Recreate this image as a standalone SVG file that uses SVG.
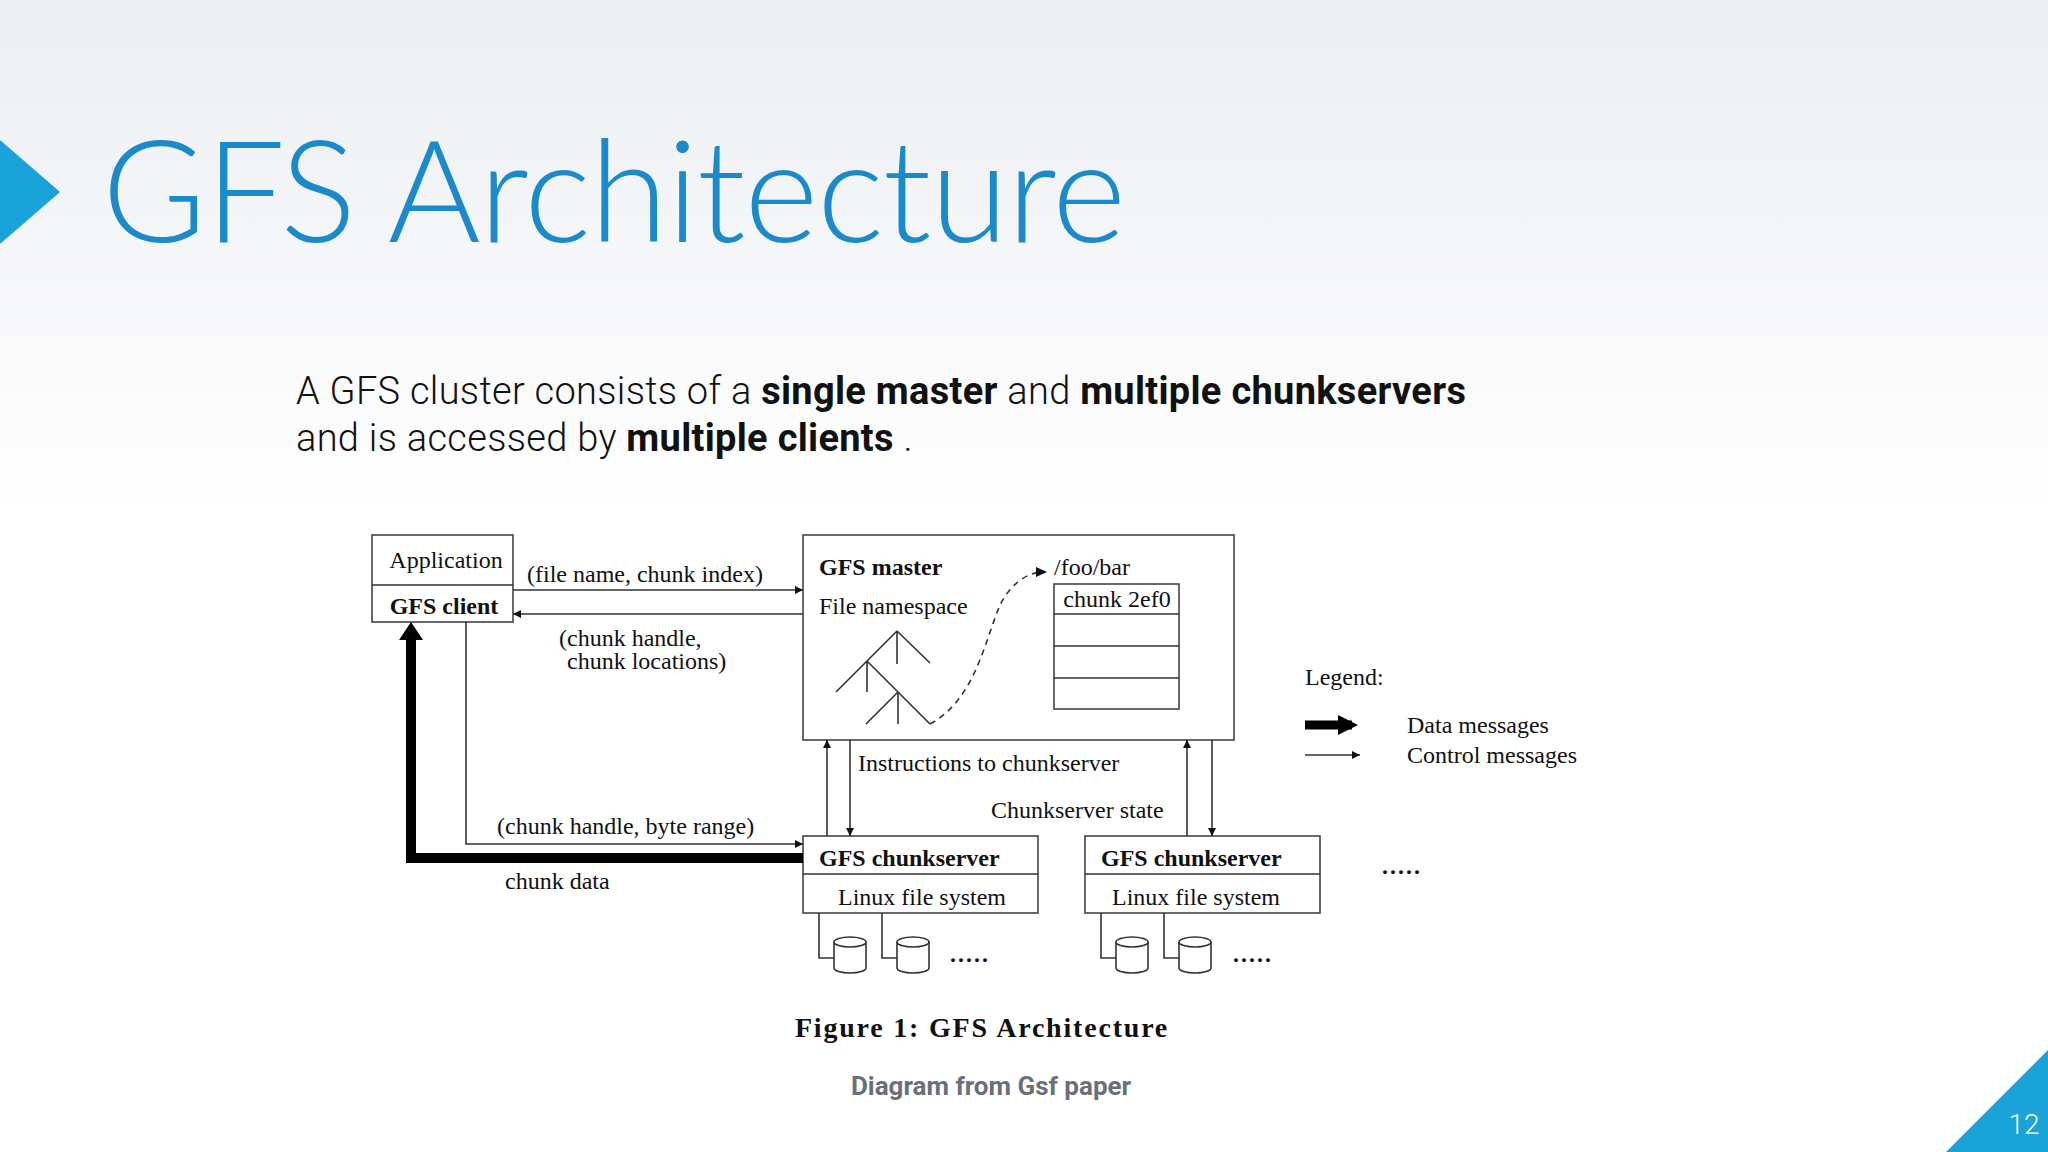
<svg xmlns="http://www.w3.org/2000/svg" width="2048" height="1152" viewBox="0 0 2048 1152">
<defs>
<linearGradient id="bg" x1="0" y1="0" x2="0" y2="1">
<stop offset="0" stop-color="#eceef2"/><stop offset="0.45" stop-color="#ffffff"/><stop offset="1" stop-color="#ffffff"/>
</linearGradient>
<marker id="ah" viewBox="0 0 10 10" refX="10" refY="5" markerWidth="12" markerHeight="8" markerUnits="userSpaceOnUse" orient="auto"><path d="M0,0 L10,5 L0,10 z" fill="#111"/></marker>
<marker id="ahb" viewBox="0 0 10 10" refX="7" refY="5" markerWidth="22" markerHeight="20" markerUnits="userSpaceOnUse" orient="auto"><path d="M0,0 L10,5 L0,10 z" fill="#000"/></marker>
</defs>
<style>
.t{font-family:"Liberation Serif","Times New Roman",serif;font-size:24px;fill:#111}
.b{font-weight:bold}
.box{fill:#fff;stroke:#444;stroke-width:1.6}
.ln{fill:none;stroke:#333;stroke-width:1.6}
.thick{fill:none;stroke:#000;stroke-width:10}
</style>
<rect width="2048" height="1152" fill="url(#bg)"/>
<polygon points="0,140 60,192 0,244" fill="#1aa3d9"/>
<text x="102" y="242" font-family="Lato,'Open Sans',sans-serif" font-weight="300" font-size="142" fill="#1a8acb" textLength="1024">GFS Architecture</text>
<g font-family="Roboto,'Noto Sans',sans-serif" font-size="38" fill="#111" letter-spacing="0.3">
<text x="296" y="404" font-weight="300">A GFS cluster consists of a <tspan font-weight="bold">single master</tspan> and <tspan font-weight="bold">multiple chunkservers</tspan></text>
<text x="296" y="451" font-weight="300">and is accessed by <tspan font-weight="bold">multiple clients</tspan> .</text>
</g>

<g id="client">
<rect class="box" x="372" y="535" width="141" height="87"/>
<line class="ln" x1="372" y1="585" x2="513" y2="585"/>
<text class="t" x="446" y="568" text-anchor="middle">Application</text>
<text class="t b" x="444" y="614" text-anchor="middle">GFS client</text>
</g>
<g id="master">
<rect class="box" x="803" y="535" width="431" height="205"/>
<text class="t b" x="819" y="575">GFS master</text>
<text class="t" x="819" y="614">File namespace</text>
<text class="t" x="1054" y="575">/foo/bar</text>
<rect class="box" x="1054" y="584" width="125" height="125"/>
<line class="ln" x1="1054" y1="614" x2="1179" y2="614"/>
<line class="ln" x1="1054" y1="646" x2="1179" y2="646"/>
<line class="ln" x1="1054" y1="678" x2="1179" y2="678"/>
<text class="t" x="1117" y="607" text-anchor="middle">chunk 2ef0</text>
<path class="ln" d="M897,631 L836,692 M897,631 L930,663 M897,631 L897,664 M867,661 L867,692 M867,661 L930,724 M898,692 L866,724 M898,692 L898,724"/>
<path d="M930,724 C975,700 985,640 1000,605 C1010,585 1025,574 1040,572" fill="none" stroke="#333" stroke-width="1.6" stroke-dasharray="6,5"/>
<path d="M1036,567 L1047,572 L1036,577 z" fill="#111"/>
</g>
<g id="cs1">
<rect class="box" x="803" y="836" width="235" height="77"/>
<line class="ln" x1="803" y1="874" x2="1038" y2="874"/>
<text class="t b" x="819" y="866">GFS chunkserver</text>
<text class="t" x="922" y="905" text-anchor="middle">Linux file system</text>
<path class="ln" d="M819,913 V958 H834 M882,913 V958 H897"/>
<g class="ln"><path d="M834,942 V968 A16,5 0 0 0 866,968 V942"/><ellipse cx="850" cy="942" rx="16" ry="5"/>
<path d="M897,942 V968 A16,5 0 0 0 929,968 V942"/><ellipse cx="913" cy="942" rx="16" ry="5"/></g>
<text class="t b" x="950" y="962" letter-spacing="2">.....</text>
</g>
<g id="cs2">
<rect class="box" x="1085" y="836" width="235" height="77"/>
<line class="ln" x1="1085" y1="874" x2="1320" y2="874"/>
<text class="t b" x="1101" y="866">GFS chunkserver</text>
<text class="t" x="1196" y="905" text-anchor="middle">Linux file system</text>
<path class="ln" d="M1101,913 V958 H1116 M1164,913 V958 H1179"/>
<g class="ln"><path d="M1116,942 V968 A16,5 0 0 0 1148,968 V942"/><ellipse cx="1132" cy="942" rx="16" ry="5"/>
<path d="M1179,942 V968 A16,5 0 0 0 1211,968 V942"/><ellipse cx="1195" cy="942" rx="16" ry="5"/></g>
<text class="t b" x="1233" y="962" letter-spacing="2">.....</text>
</g>
<text class="t b" x="1382" y="874" letter-spacing="2">.....</text>

<g id="connectors">
<line class="ln" x1="513" y1="590" x2="803" y2="590" marker-end="url(#ah)"/>
<line class="ln" x1="803" y1="614" x2="513" y2="614" marker-end="url(#ah)"/>
<path class="ln" d="M466,622 V844 H803" marker-end="url(#ah)"/>
<path class="thick" d="M803,858 H411 V636"/>
<path d="M399,640 L411,622 L423,640 z" fill="#000"/>
<line class="ln" x1="827" y1="836" x2="827" y2="740" marker-end="url(#ah)"/>
<line class="ln" x1="850" y1="740" x2="850" y2="836" marker-end="url(#ah)"/>
<line class="ln" x1="1187" y1="836" x2="1187" y2="740" marker-end="url(#ah)"/>
<line class="ln" x1="1212" y1="740" x2="1212" y2="836" marker-end="url(#ah)"/>
<text class="t" x="527" y="582">(file name, chunk index)</text>
<text class="t" x="559" y="646">(chunk handle,</text>
<text class="t" x="567" y="669">chunk locations)</text>
<text class="t" x="858" y="771">Instructions to chunkserver</text>
<text class="t" x="991" y="818">Chunkserver state</text>
<text class="t" x="497" y="834">(chunk handle, byte range)</text>
<text class="t" x="505" y="889">chunk data</text>
</g>
<g id="legend">
<text class="t" x="1305" y="685">Legend:</text>
<line x1="1305" y1="725" x2="1352" y2="725" stroke="#000" stroke-width="9" marker-end="url(#ahb)"/>
<line class="ln" x1="1305" y1="755" x2="1360" y2="755" marker-end="url(#ah)"/>
<text class="t" x="1407" y="733">Data messages</text>
<text class="t" x="1407" y="763">Control messages</text>
</g>
<text x="982" y="1037" text-anchor="middle" font-family="'Liberation Serif',serif" font-weight="bold" font-size="28" fill="#111" letter-spacing="1.8">Figure 1:  GFS Architecture</text>
<text x="991" y="1095" text-anchor="middle" font-family="Roboto,'Noto Sans',sans-serif" font-weight="bold" font-size="26" fill="#6b6f7a">Diagram from Gsf paper</text>
<polygon points="1946,1152 2048,1050 2048,1152" fill="#1aa3d9"/>
<text x="2024" y="1134" text-anchor="middle" font-family="Roboto,sans-serif" font-weight="300" font-size="28" fill="#fff">12</text>
</svg>
